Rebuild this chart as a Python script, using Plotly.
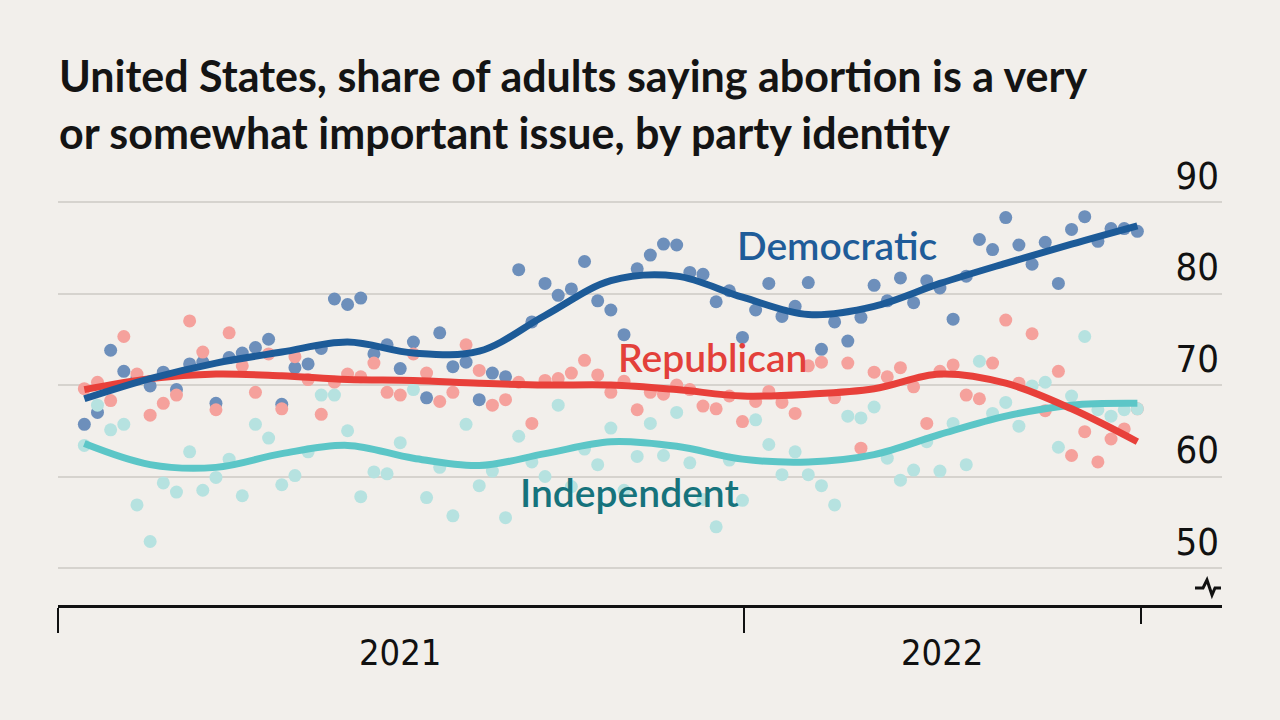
import plotly.graph_objects as go
import pandas as pd

# ---------------- data (weekly polls, share %) ----------------
poll_dates = pd.date_range("2021-01-15", periods=81, freq="7D")

dem_polls = [65.7, 67.0, 73.8, 71.5, 70.8, 69.9, 71.4, 69.5, 72.3, 72.5,
             68.0, 73.0, 73.5, 74.1, 75.0, 67.9, 71.9, 72.3, 74.0, 79.4,
             78.8, 79.5, 73.4, 74.4, 71.8, 74.7, 68.6, 75.7, 72.0, 72.5,
             68.4, 71.3, 70.9, 82.6, 76.9, 81.1, 79.8, 80.5, 83.5, 79.2,
             78.2, 75.5, 82.7, 84.2, 85.4, 85.3, 82.3, 82.1, 79.1, 80.3,
             75.2, 78.2, 81.1, 77.5, 78.6, 81.2, 73.9, 76.9, 74.8, 77.4,
             80.9, 79.2, 81.7, 79.0, 81.4, 80.6, 77.2, 81.9, 85.9, 84.8,
             88.3, 85.3, 83.2, 85.6, 81.1, 87.0, 88.4, 85.7, 87.1, 87.1,
             86.8]

rep_polls = [69.6, 70.3, 68.3, 75.3, 71.2, 66.7, 68.0, 68.9, 77.0, 73.6,
             67.3, 75.7, 72.1, 69.2, 73.4, 67.4, 73.1, 70.6, 66.8, 70.3,
             71.2, 70.9, 72.4, 69.2, 68.9, 73.4, 71.3, 68.2, 69.2, 74.4,
             71.6, 67.8, 68.4, 70.3, 65.8, 70.5, 70.7, 71.3, 72.7, 71.1,
             69.2, 70.4, 67.3, 69.2, 69.0, 70.0, 69.5, 67.7, 67.4, 68.8,
             66.0, 68.2, 69.3, 68.1, 66.9, 72.1, 72.5, 68.6, 72.4, 63.1,
             71.4, 70.9, 71.9, 69.8, 65.8, 71.5, 72.2, 68.9, 68.5, 72.4,
             77.1, 70.2, 75.6, 67.2, 71.5, 62.3, 64.9, 61.6, 64.1, 65.2,
             67.4]

ind_polls = [63.4, 67.8, 65.1, 65.7, 56.9, 52.9, 59.3, 58.3, 62.7, 58.5,
             59.9, 61.9, 57.9, 65.7, 64.2, 59.1, 60.1, 62.7, 68.9, 68.9,
             65.0, 57.8, 60.5, 60.3, 63.7, 69.5, 57.7, 61.0, 55.7, 65.7,
             59.0, 60.6, 55.5, 64.4, 61.6, 60.0, 67.8, 58.9, 63.0, 61.3,
             65.3, 58.5, 62.2, 65.8, 62.3, 67.0, 61.5, 57.5, 54.5, 61.8,
             57.4, 66.2, 63.5, 60.2, 62.7, 60.2, 59.0, 56.9, 66.6, 66.4,
             67.6, 62.0, 59.6, 60.7, 63.8, 60.6, 65.8, 61.3, 72.6, 66.9,
             68.1, 65.5, 69.9, 70.3, 63.2, 68.8, 75.3, 67.3, 66.6, 67.3,
             67.4]

# smoothed trend values, read every fifth week
trend_weeks = [0, 5, 10, 15, 20, 25, 30, 35, 40, 45, 50, 55, 60, 65, 70, 75, 80]
dem_trend = [68.5, 70.7, 72.4, 73.6, 74.7, 73.5, 73.7, 77.6, 81.4, 81.9,
             79.6, 77.7, 78.6, 81.1, 83.3, 85.4, 87.4]
rep_trend = [69.5, 70.7, 71.2, 71.0, 70.6, 70.5, 70.2, 70.0, 70.0, 69.5,
             68.8, 69.0, 69.6, 71.2, 70.2, 67.4, 63.8]
ind_trend = [63.6, 61.3, 61.0, 62.5, 63.4, 62.0, 61.2, 62.5, 63.8, 63.3,
             61.9, 61.6, 62.4, 64.6, 66.6, 67.8, 68.0]
trend_dates = poll_dates[trend_weeks]

y_ticks = [50, 60, 70, 80, 90]
year_labels = ["2021", "2022"]
year_label_dates = ["2021-07-02", "2022-04-16"]
year_ticks = ["2021-01-01", "2022-01-01"]
end_tick = ["2022-07-31"]

# ---------------- style ----------------
BG = "#f2efeb"
GRID = "#d6d3ce"
NARROW = "Liberation Sans Narrow, DejaVu Sans Condensed, Roboto, sans-serif"
SANS = "Lato, Open Sans, sans-serif"

series = [
    ("Independent", ind_polls, ind_trend, "#b6e2e0", "#5cc6c7"),
    ("Republican", rep_polls, rep_trend, "#f5a19c", "#e8403a"),
    ("Democratic", dem_polls, dem_trend, "#6d8fbb", "#1d5b98"),
]

fig = go.Figure()
for name, polls, _, dot_col, _ in [series[2], series[1], series[0]]:
    fig.add_trace(go.Scatter(
        x=poll_dates, y=polls, mode="markers", name=name + " polls",
        marker=dict(size=13, color=dot_col, line=dict(width=0)),
        hoverinfo="x+y", showlegend=False))
for name, _, trend, _, line_col in series:
    fig.add_trace(go.Scatter(
        x=trend_dates, y=trend, mode="lines", name=name,
        line=dict(color=line_col, width=7, shape="spline", smoothing=1.0),
        showlegend=False))

# plot area geometry in pixels (for paper-coordinate text placement)
L, R, T, B = 58, 1222, 130, 605
W, H = R - L, B - T
Y_BOTTOM = 45.96
Y_TOP = 90 + (202 - T) * 40 / (568 - 202)


def px(xp):
    return (xp - L) / W


def py(yp):
    return (B - yp) / H


TITLE_FONT = dict(family=SANS, size=43, color="#141414")
annotations = [
    dict(text="<b>United States, share of adults saying abortion is a very</b>",
         x=px(57), y=py(75), xref="paper", yref="paper", xanchor="left",
         yanchor="middle", showarrow=False, font=TITLE_FONT),
    dict(text="<b>or somewhat important issue, by party identity</b>",
         x=px(57), y=py(133), xref="paper", yref="paper", xanchor="left",
         yanchor="middle", showarrow=False, font=TITLE_FONT),
    dict(text="Democratic", x="2022-02-19", y=85.3, xref="x", yref="y",
         showarrow=False, font=dict(family=SANS, size=39, color="#1f5c99", weight=600)),
    dict(text="Republican", x="2021-12-15", y=73.1, xref="x", yref="y",
         showarrow=False, font=dict(family=SANS, size=39, color="#e3403a", weight=600)),
    dict(text="Independent", x="2021-11-01", y=58.3, xref="x", yref="y",
         showarrow=False, font=dict(family=SANS, size=39, color="#16737c", weight=600)),
]
for lab, d in zip(year_labels, year_label_dates):
    annotations.append(dict(text=lab, x=d, y=py(652), xref="x", yref="paper",
                            showarrow=False, xanchor="center", yanchor="middle",
                            font=dict(family=NARROW, size=36, color="#111111")))

# axis-break symbol near the bottom right
brk = [(1195, 588), (1203, 588), (1207, 580), (1212, 595), (1215, 588), (1221, 588)]
path = "M " + " L ".join(f"{px(a):.5f},{py(b):.5f}" for a, b in brk)
shapes = [dict(type="path", path=path, xref="paper", yref="paper",
               line=dict(color="#111111", width=3))]

fig.update_layout(
    width=1280, height=720,
    paper_bgcolor=BG, plot_bgcolor=BG,
    margin=dict(l=L, r=1280 - R, t=T, b=720 - B),
    annotations=annotations, shapes=shapes,
    xaxis=dict(
        type="date", range=["2021-01-01", "2022-09-12"],
        showgrid=False, zeroline=False,
        showline=True, linecolor="#111111", linewidth=3,
        tickmode="array", tickvals=year_ticks, ticks="outside",
        ticklen=25, tickwidth=2, tickcolor="#111111", showticklabels=False,
        minor=dict(tickmode="array", tickvals=end_tick, ticks="outside",
                   ticklen=16, tickwidth=2, tickcolor="#111111", showgrid=False),
    ),
    yaxis=dict(
        range=[Y_BOTTOM, Y_TOP], side="right",
        tickmode="array", tickvals=y_ticks,
        showgrid=True, gridcolor=GRID, gridwidth=2,
        zeroline=False, showline=False, ticks="",
        ticklabelposition="inside top",
        tickfont=dict(family=NARROW, size=38, color="#111111"),
    ),
    hovermode="closest",
)

fig.write_html(
    "out.html",
    config={"displayModeBar": False},
    post_script="document.body.style.margin='0';"
                "document.body.style.background='" + BG + "';",
)
